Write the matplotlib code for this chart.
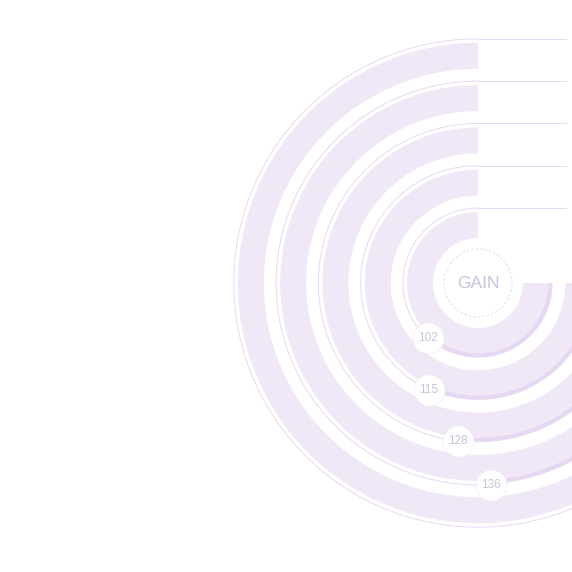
import numpy as np
import matplotlib
matplotlib.use("Agg")
import matplotlib.pyplot as plt

# datos
values = [102, 115, 128, 136, 165]
labels = ["102", "115", "128", "136"]  # la etiqueta del anillo exterior queda fuera de la imagen
center_label = "GAIN"
max_value = 200

track_color = "#f0e7f7"
dark_color = "#e6d7f2"
line_color = "#e6d8f3"
text_color = "#c6c3da"

plt.rcParams['font.family'] = ['Liberation Sans', 'DejaVu Sans']

fig = plt.figure(figsize=(5.72, 5.72), dpi=100)
R = 265  # radio del eje en pixeles
cx, cy = 478, 283
ax = fig.add_axes([(cx - R) / 572, (572 - cy - R) / 572, 2 * R / 572, 2 * R / 572],
                  projection="polar")
ax.set_theta_zero_location("N")
ax.set_theta_direction(1)
ax.set_ylim(0, R)
ax.set_axis_off()

span = np.radians(270)
r0 = 45
step = 42.3
band = 26

for i, v in enumerate(values):
    r_in = r0 + i * step
    r_out = r_in + band
    # pista
    ax.bar(0, band, width=span, bottom=r_in, align="edge",
           color=track_color, edgecolor="none", zorder=1)
    th = v / max_value * span
    r_line = r_out + 4
    # linea fina: horizontal arriba + arco hasta la etiqueta
    xs = np.linspace(88, 0, 60)
    ax.plot(np.arctan2(-xs, r_line), np.hypot(xs, r_line), color=line_color, lw=0.7, zorder=2)
    t = np.linspace(0, th, 300)
    ax.plot(t, np.full_like(t, r_line), color=line_color, lw=0.7, zorder=2)
    # arco oscuro
    t2 = np.linspace(th, span, 300)
    ax.plot(t2, np.full_like(t2, r_out + 1.5), color=dark_color, lw=3, zorder=2,
            solid_capstyle="butt")
    # etiqueta
    if i < len(labels):
        ax.scatter([th], [r_line], s=500, color="white", edgecolor="#f3edf8", lw=0.6, zorder=4)
        ax.text(th, r_line, labels[i], ha="center", va="center", fontsize=8.5,
                color=text_color, zorder=5)

# centro
tc = np.linspace(0, 2 * np.pi, 400)
ax.plot(tc, np.full_like(tc, 34), color="#e6daf2", lw=0.8, ls=(0, (2, 2)), zorder=3)
ax.text(0, 0, center_label, ha="center", va="center", fontsize=12.5,
        color=text_color, zorder=5)

fig.savefig("out.png", dpi=100, facecolor="white")
